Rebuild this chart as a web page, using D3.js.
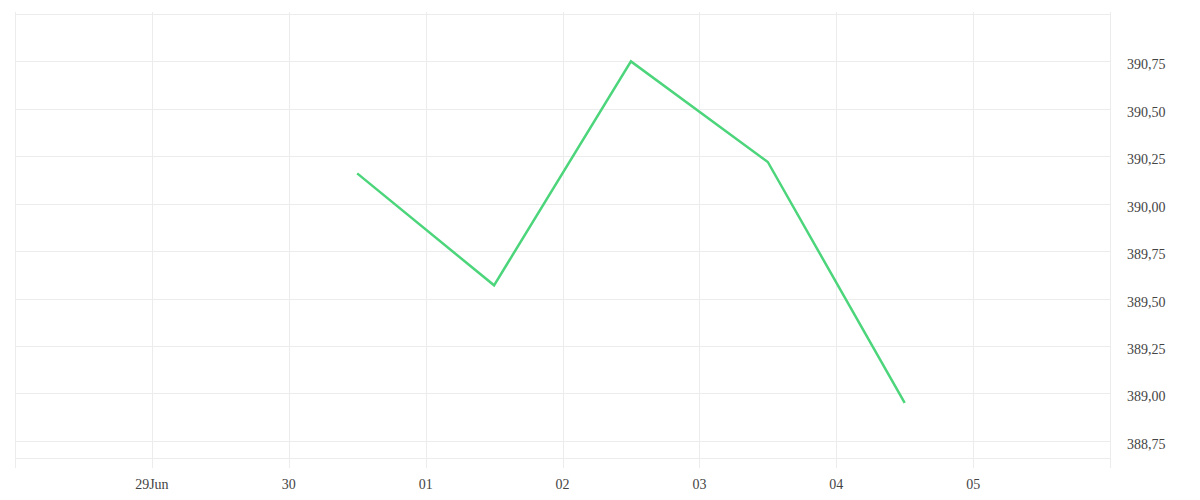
<!DOCTYPE html>
<html>
<head>
<meta charset="utf-8">
<script src="https://cdn.jsdelivr.net/npm/d3@7"></script>
<style>
  body { margin: 0; background: #fff; }
  svg { display: block; }
  .grid line { stroke: #ececec; stroke-width: 1; shape-rendering: crispEdges; }
  .lbl { font-family: "Liberation Serif", serif; font-size: 14px; fill: #444; }
</style>
</head>
<body>
<svg id="chart" width="1200" height="500"></svg>
<script>
// data
const dates = ['2020-06-30T12:00', '2020-07-01T12:00', '2020-07-02T12:00', '2020-07-03T12:00', '2020-07-04T12:00'];
const prices = [390.16, 389.57, 390.75, 390.22, 388.95];
const xDomain = ['2020-06-28T00:00', '2020-07-06T00:00'];
const yDomain = [388.66, 391.0];
const yTicks = [388.75, 389.00, 389.25, 389.50, 389.75, 390.00, 390.25, 390.50, 390.75];

const parse = d3.timeParse('%Y-%m-%dT%H:%M');
const points = dates.map((d, i) => ({ date: parse(d), value: prices[i] }));

const svg = d3.select('#chart');
const plotLeft = 15, plotRight = 1110, plotTop = 14, plotBottom = 458;

const x = d3.scaleTime()
    .domain(xDomain.map(parse))
    .range([plotLeft, plotRight]);

const y = d3.scaleLinear()
    .domain(yDomain)
    .range([plotBottom, plotTop]);

const grid = svg.append('g').attr('class', 'grid');

// horizontal grid, plus top / bottom border
const hLines = [yDomain[0]].concat(yTicks, [yDomain[1]]);
grid.selectAll('line.h')
    .data(hLines)
    .enter()
    .append('line')
    .attr('class', 'h')
    .attr('x1', plotLeft)
    .attr('x2', plotRight)
    .attr('y1', d => Math.round(y(d)) + 0.5)
    .attr('y2', d => Math.round(y(d)) + 0.5);

// vertical grid, one per day (extends a little past the plot)
const days = d3.timeDay.range(x.domain()[0], d3.timeDay.offset(x.domain()[1], 1));
grid.selectAll('line.v')
    .data(days)
    .enter()
    .append('line')
    .attr('class', 'v')
    .attr('x1', d => Math.round(x(d)) + 0.5)
    .attr('x2', d => Math.round(x(d)) + 0.5)
    .attr('y1', plotTop - 2)
    .attr('y2', 468);

// line
const line = d3.line()
    .x(d => x(d.date))
    .y(d => y(d.value));

svg.append('path')
    .datum(points)
    .attr('fill', 'none')
    .attr('stroke', '#4cd57b')
    .attr('stroke-width', 2.5)
    .attr('stroke-linejoin', 'miter')
    .attr('d', line);

// right axis labels
const fmt = d3.format('.2f');
svg.append('g')
    .selectAll('text')
    .data(yTicks)
    .enter()
    .append('text')
    .attr('class', 'lbl')
    .attr('x', 1127)
    .attr('y', d => y(d) + 8)
    .text(d => fmt(d).replace('.', ','));

// bottom axis labels
const dayFmt = d => (d.getDate() === 29 && d.getMonth() === 5) ? '29Jun' : d3.timeFormat('%d')(d);
svg.append('g')
    .selectAll('text')
    .data(days.slice(1, -1))
    .enter()
    .append('text')
    .attr('class', 'lbl')
    .attr('text-anchor', 'middle')
    .attr('x', d => x(d))
    .attr('y', 489)
    .text(dayFmt);
</script>
</body>
</html>
